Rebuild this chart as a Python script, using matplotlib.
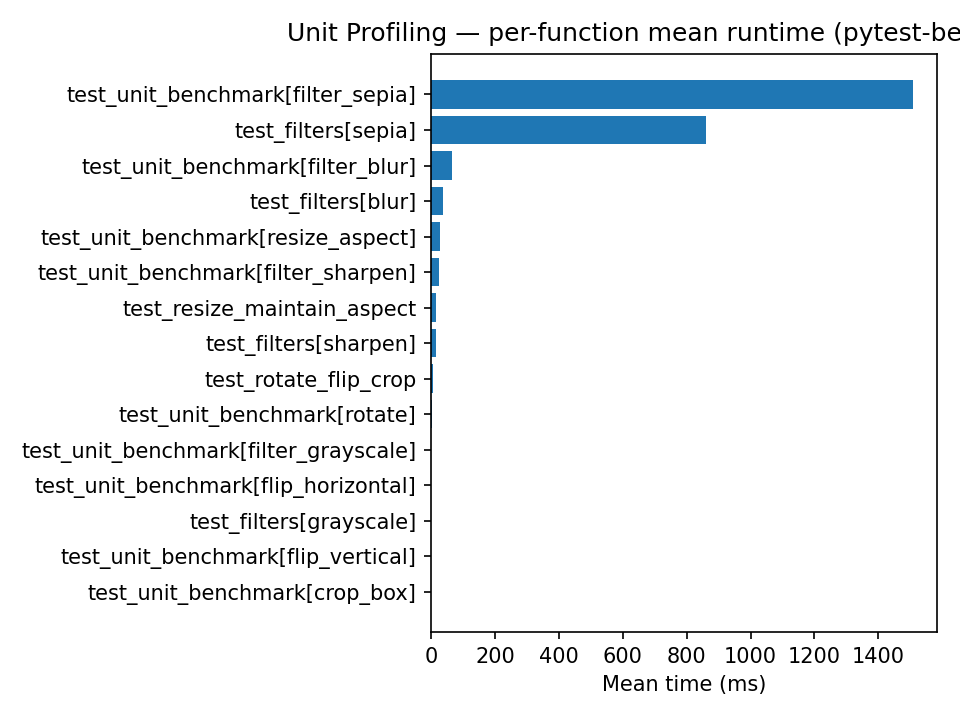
import matplotlib
matplotlib.use("Agg")
import matplotlib.pyplot as plt

# Benchmark names, slowest first
tests = [
    "test_unit_benchmark[filter_sepia]",
    "test_filters[sepia]",
    "test_unit_benchmark[filter_blur]",
    "test_filters[blur]",
    "test_unit_benchmark[resize_aspect]",
    "test_unit_benchmark[filter_sharpen]",
    "test_resize_maintain_aspect",
    "test_filters[sharpen]",
    "test_rotate_flip_crop",
    "test_unit_benchmark[rotate]",
    "test_unit_benchmark[filter_grayscale]",
    "test_unit_benchmark[flip_horizontal]",
    "test_filters[grayscale]",
    "test_unit_benchmark[flip_vertical]",
    "test_unit_benchmark[crop_box]",
]

# Mean runtime (ms)
mean_ms = [1508, 862, 66, 38, 28, 25, 16, 16, 6, 1.5, 1.1, 0.9, 0.7, 0.5, 0.2]

fig = plt.figure(figsize=(6.4, 4.8), dpi=150)
ax = fig.add_axes([0.449, 0.122, 0.527, 0.803])

ax.barh(tests, mean_ms, color="#1f77b4")
ax.invert_yaxis()
ax.set_xlabel("Mean time (ms)")
ax.set_title("Unit Profiling \u2014 per-function mean runtime (pytest-benchmark)")

fig.savefig("out.png", dpi=150)
